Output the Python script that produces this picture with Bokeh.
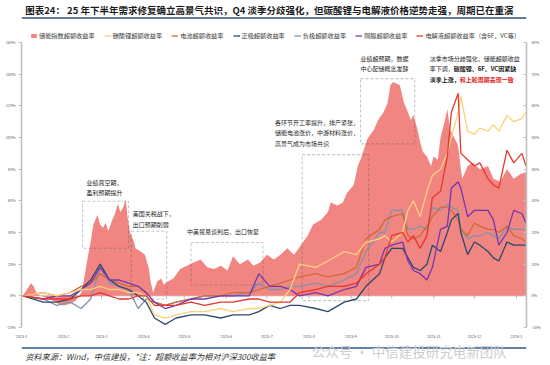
import pandas as pd
from bokeh.plotting import figure
from bokeh.layouts import column
from bokeh.models import (Range1d, LinearAxis, FixedTicker, PrintfTickFormatter, Legend, LegendItem,
                          Label, BoxAnnotation, Span, ColumnDataSource)
from bokeh.embed import file_html
from bokeh.resources import INLINE

FONT = "Noto Sans CJK SC"

# ---------------- data ----------------
series_names = ["储能指数超额收益率", "碳酸锂超额收益率", "电池超额收益率", "正极超额收益率",
                "负极超额收益率", "隔膜超额收益率", "电解液超额收益率（含6F、VC等）"]

# storage index excess return (left axis, %)
storage_dates = [
    "2025-01-02", "2025-01-05", "2025-01-08", "2025-01-10", "2025-01-12", "2025-01-15", "2025-01-19",
    "2025-01-22", "2025-01-26", "2025-01-30", "2025-02-02", "2025-02-06", "2025-02-10", "2025-02-14",
    "2025-02-16", "2025-02-19", "2025-02-21", "2025-02-23", "2025-02-26", "2025-02-28", "2025-03-02",
    "2025-03-04", "2025-03-06", "2025-03-09", "2025-03-11", "2025-03-13", "2025-03-15", "2025-03-17",
    "2025-03-19", "2025-03-20", "2025-03-22", "2025-03-25", "2025-03-26", "2025-03-30", "2025-04-02",
    "2025-04-05", "2025-04-06", "2025-04-08", "2025-04-11", "2025-04-14", "2025-04-16", "2025-04-19",
    "2025-04-23", "2025-04-28", "2025-05-03", "2025-05-08", "2025-05-13", "2025-05-18", "2025-05-23",
    "2025-05-28", "2025-06-02", "2025-06-06", "2025-06-11", "2025-06-17", "2025-06-21", "2025-06-26",
    "2025-07-01", "2025-07-06", "2025-07-11", "2025-07-16", "2025-07-21", "2025-07-26", "2025-07-31",
    "2025-08-04", "2025-08-10", "2025-08-15", "2025-08-17", "2025-08-22", "2025-08-26", "2025-08-29",
    "2025-09-03", "2025-09-06", "2025-09-08", "2025-09-13", "2025-09-18", "2025-09-21", "2025-09-25",
    "2025-09-28", "2025-09-30", "2025-10-02", "2025-10-07", "2025-10-10", "2025-10-13", "2025-10-15",
    "2025-10-17", "2025-10-20", "2025-10-22", "2025-10-24", "2025-10-27", "2025-10-30", "2025-11-01",
    "2025-11-04", "2025-11-06", "2025-11-09", "2025-11-11", "2025-11-13", "2025-11-16", "2025-11-19",
    "2025-11-21", "2025-11-22", "2025-11-26", "2025-11-30", "2025-12-05", "2025-12-11", "2025-12-15",
    "2025-12-20", "2025-12-25", "2025-12-30", "2026-01-04", "2026-01-08"]
storage_excess = [
    0, 4, 8, 6, 2, 0, -1,
    -2, -4, -6, -6, -5, -3, 2,
    10, 25, 34, 45, 51, 45, 43,
    46, 41, 48, 52, 58, 53, 56,
    61, 51, 40, 34, 30, 28, 26,
    17, 10, 2, 9, 11, 7, 9,
    11, 17, 19, 21, 23, 18, 17,
    19, 16, 25, 20, 23, 19, 21,
    26, 23, 26, 30, 26, 32, 38,
    45, 48, 53, 59, 57, 59, 65,
    70, 82, 86, 99, 105, 111, 116,
    122, 133, 135, 133, 122, 116, 111,
    114, 105, 97, 91, 88, 82, 88,
    86, 100, 110, 118, 105, 100, 95,
    80, 74, 82, 84, 80, 82, 74,
    72, 80, 74, 77, 78]

# sector excess returns (right axis, %)
line_dates = [
    "2025-01-02", "2025-01-17", "2025-01-27", "2025-02-06", "2025-02-14", "2025-02-21", "2025-02-28",
    "2025-03-07", "2025-03-14", "2025-03-21", "2025-03-28", "2025-04-03", "2025-04-09", "2025-04-17",
    "2025-04-25", "2025-05-06", "2025-05-16", "2025-05-28", "2025-06-06", "2025-06-18", "2025-06-25",
    "2025-07-03", "2025-07-11", "2025-07-18", "2025-07-25", "2025-08-06", "2025-08-15", "2025-08-27",
    "2025-09-05", "2025-09-12", "2025-09-22", "2025-09-26", "2025-10-01", "2025-10-09", "2025-10-13",
    "2025-10-17", "2025-10-22", "2025-10-27", "2025-10-31", "2025-11-06", "2025-11-11", "2025-11-14",
    "2025-11-19", "2025-11-21", "2025-11-26", "2025-12-01", "2025-12-05", "2025-12-11", "2025-12-15",
    "2025-12-19", "2025-12-25", "2025-12-30", "2026-01-05", "2026-01-08"]
lithium_excess = [0, 1, 0, 1, 2, 2, 3, 2, 2, 1,
                  1, 0, -6, -7, -6, -5, -5, -4, -5, -4,
                  -4, -3, -2, 2, 10, 9, 11, 14, 13, 17,
                  18, 19, 17, 20, 27, 30, 25, 33, 38, 40,
                  45, 50, 58, 63, 52, 51, 53, 52, 54, 52,
                  57, 55, 56, 58]
battery_excess = [0, 1, 0, 1, 3, 4, 7, 5, 4, 3,
                  3, 1, -2, -3, -2, -1, 0, 0, 1, 1,
                  2, 3, 4, 5, 6, 7, 6, 7, 9, 18,
                  21, 24, 25, 26, 19, 18, 19, 22, 25, 28,
                  28, 27, 24, 21, 19, 23, 22, 21, 21, 20,
                  22, 19, 18, 17]
cathode_excess = [0, -2, -2, -1, 2, 5, 10, 5, 3, 2,
                  0, -2, -7, -9, -7, -6, -6, -7, -6, -6,
                  -5, -3, -4, -3, -3, -4, -5, -2, -1, 3,
                  7, 12, 15, 15, 12, 9, 8, 10, 16, 14,
                  20, 24, 26, 20, 13, 17, 16, 14, 12, 11,
                  17, 16, 16, 16]
anode_excess = [0, -1, -3, -2, -4, -1, 9, 4, 3, 2,
                -4, -1, -2, -3, -2, -1, 0, 0, 0, 1,
                4, 2, 2, 3, 3, 4, 3, 5, 7, 14,
                20, 20, 27, 27, 21, 21, 22, 21, 28, 27,
                29, 28, 27, 21, 18, 19, 19, 20, 19, 18,
                22, 21, 21, 21]
separator_excess = [0, -1, 0, 0, 2, 4, 9, 5, 5, 4,
                    3, 1, -2, -4, -3, -1, -1, 0, 0, 0,
                    7, 3, 3, 2, 0, 1, 0, 2, 3, 9,
                    10, 15, 16, 17, 11, 8, 7, 5, 9, 21,
                    22, 34, 36, 34, 25, 27, 27, 27, 24, 16,
                    20, 27, 26, 23]
electrolyte_excess = [0, -1, -1, -1, 0, 0, 1, 0, -1, -1,
                      0, 0, -3, -3, -3, -2, -3, -2, -2, -1,
                      -1, -2, -2, -2, 1, 2, 3, 3, 4, 7,
                      10, 12, 19, 20, 17, 19, 15, 19, 31, 33,
                      44, 58, 64, 45, 43, 41, 42, 37, 35, 34,
                      46, 42, 45, 41]

month_starts = ["2025-01-01", "2025-02-01", "2025-03-01", "2025-04-01", "2025-05-01", "2025-06-01",
                "2025-07-01", "2025-08-01", "2025-09-01", "2025-10-01", "2025-11-01", "2025-12-01",
                "2026-01-01"]
month_labels = ["2025-1", "2025-2", "2025-3", "2025-4", "2025-5", "2025-6", "2025-7", "2025-8",
                "2025-9", "2025-10", "2025-11", "2025-12", "2026-1"]
left_ticks = [-20, 0, 20, 40, 60, 80, 100, 120, 140, 160]
right_ticks = [-10, 0, 10, 20, 30, 40, 50, 60, 70, 80]

# annotation boxes: (left date, right date, top %, bottom %) on left axis
boxes = [("2025-02-15", "2025-03-21", 59.7, 30.1),
         ("2025-03-23", "2025-04-18", 40.8, -2),
         ("2025-05-06", "2025-06-28", 33.7, 6.8),
         ("2025-07-27", "2025-09-14", 89.2, -3),
         ("2025-09-08", "2025-10-18", 137.2, 96)]

# annotation text lines: (date, left-axis %, [(text, bold, color), ...])
notes = [
    ("2025-02-18", 71.9, [("业绩真空期，", False, "#262626")]),
    ("2025-02-18", 65.2, [("盈利预期提升", False, "#262626")]),
    ("2025-03-24", 52.0, [("美国关税战下，", False, "#262626")]),
    ("2025-03-24", 45.0, [("出口预期削弱", False, "#262626")]),
    ("2025-05-03", 40.4, [("中美贸易谈判后，出口恢复", False, "#262626")]),
    ("2025-07-07", 109.8, [("各环节开工率提升，排产紧张，", False, "#262626")]),
    ("2025-07-07", 103.1, [("储能电池涨价，中游材料涨价，", False, "#262626")]),
    ("2025-07-07", 96.5, [("高景气成为市场共识", False, "#262626")]),
    ("2025-09-08", 149.8, [("业绩超预期，数据", False, "#262626")]),
    ("2025-09-08", 143.5, [("中心配储概念发酵", False, "#262626")]),
    ("2025-10-29", 149.8, [("淡季市场分歧强化，储能超额收益", False, "#262626")]),
    ("2025-10-29", 143.5, [("率下调，", False, "#262626"), ("碳酸锂、6F、VC因紧缺", True, "#1A1A1A")]),
    ("2025-10-29", 136.5, [("淡季上涨，", True, "#1A1A1A"), ("和上轮周期表现一致", True, "#E0241B")]),
]

title_text = "图表24：  25 年下半年需求修复确立高景气共识，Q4 淡季分歧强化，但碳酸锂与电解液价格逆势走强，周期已在重演"
source_text = "资料来源：Wind，中信建投，*注：超额收益率为相对沪深300收益率"
watermark_text = "公众号 · 中信建投研究电新团队"

# ---------------- helpers ----------------
ORIGIN = pd.Timestamp("2025-01-01")


def to_day(d):
    return (pd.Timestamp(d) - ORIGIN).days


month_days = [to_day(d) for d in month_starts]
W = 550


def blank_fig(h):
    f = figure(width=W, height=h, output_backend="svg", toolbar_location=None,
               x_range=Range1d(0, W), y_range=Range1d(h, 0),
               x_axis_location=None, y_axis_location=None,
               min_border=0, min_border_left=0, min_border_right=0,
               min_border_top=0, min_border_bottom=0)
    f.xgrid.visible = False
    f.ygrid.visible = False
    f.outline_line_alpha = 0
    f.background_fill_color = "white"
    f.border_fill_color = "white"
    return f


# ---------------- header ----------------
head = blank_fig(20)
head.add_layout(Label(x=4, y=9, text=title_text, text_font=FONT, text_font_size="9.5px",
                      text_font_style="bold", text_color="#1A1A1A", text_baseline="middle",
                      text_align="left"))
head.add_layout(Span(location=17.5, dimension="width", line_color="#2B4F7A", line_width=1.6))

# ---------------- main chart ----------------
# frame extends a little above 160% so that the legend sits inside it
p = figure(width=W, height=321, output_backend="svg", toolbar_location=None,
           x_range=Range1d(0, 372.4), y_range=Range1d(-20, 167.6),
           min_border_left=21, min_border_right=24, min_border_top=10, min_border_bottom=14)
p.extra_y_ranges = {"right": Range1d(-10, 83.8)}
p.xgrid.visible = False
p.ygrid.visible = False
p.outline_line_alpha = 0
p.background_fill_color = "white"
p.border_fill_color = "white"

AX = "#BFBFBF"
LBL = "#595959"

ya = p.yaxis[0]
ya.ticker = FixedTicker(ticks=left_ticks)
ya.bounds = (left_ticks[0], left_ticks[-1])
ya.formatter = PrintfTickFormatter(format="%d%%")
ya.axis_line_color = AX
ya.axis_line_width = 1.6
ya.major_tick_line_color = AX
ya.major_tick_out = 3
ya.major_tick_in = 0
ya.minor_tick_line_alpha = 0
ya.major_label_standoff = 3
ya.major_label_text_font = FONT
ya.major_label_text_font_size = "3.8px"
ya.major_label_text_color = LBL

ra = LinearAxis(y_range_name="right")
ra.ticker = FixedTicker(ticks=right_ticks)
ra.bounds = (right_ticks[0], right_ticks[-1])
ra.formatter = PrintfTickFormatter(format="%d%%")
ra.axis_line_color = AX
ra.axis_line_width = 1.6
ra.major_tick_line_color = AX
ra.major_tick_out = 0
ra.major_tick_in = 3
ra.minor_tick_line_alpha = 0
ra.major_label_standoff = 5
ra.major_label_text_font = FONT
ra.major_label_text_font_size = "3.8px"
ra.major_label_text_color = LBL
p.add_layout(ra, "right")

xa = p.xaxis[0]
xa.ticker = FixedTicker(ticks=month_days)
xa.major_label_overrides = {d: l for d, l in zip(month_days, month_labels)}
xa.axis_line_alpha = 0
xa.major_tick_line_alpha = 0
xa.minor_tick_line_alpha = 0
xa.major_label_standoff = 1
xa.major_label_text_font = FONT
xa.major_label_text_font_size = "3.8px"
xa.major_label_text_color = LBL

p.add_layout(Span(location=0, dimension="width", line_color=AX, line_width=1, level="underlay"))
p.segment(x0=month_days, y0=[0] * len(month_days), x1=month_days, y1=[-1.9] * len(month_days),
          line_color=AX, line_width=1)

area_src = ColumnDataSource(dict(x=[to_day(d) for d in storage_dates], y=storage_excess))
r_area = p.varea(x="x", y1=0, y2="y", source=area_src, fill_color="#F08582", fill_alpha=1)

ls = ColumnDataSource(dict(x=[to_day(d) for d in line_dates], lithium=lithium_excess,
                           battery=battery_excess, cathode=cathode_excess, anode=anode_excess,
                           separator=separator_excess, electrolyte=electrolyte_excess))
LW = 1.3
r_anode = p.line("x", "anode", source=ls, y_range_name="right", line_color="#8095AA", line_width=LW)
r_batt = p.line("x", "battery", source=ls, y_range_name="right", line_color="#CF6B35", line_width=LW)
r_cath = p.line("x", "cathode", source=ls, y_range_name="right", line_color="#2D4A6D", line_width=LW)
r_sep = p.line("x", "separator", source=ls, y_range_name="right", line_color="#7636AE", line_width=LW)
r_li = p.line("x", "lithium", source=ls, y_range_name="right", line_color="#FAD27C", line_width=LW)
r_ele = p.line("x", "electrolyte", source=ls, y_range_name="right", line_color="#E8372B", line_width=LW)

for l, r, t, b in boxes:
    p.add_layout(BoxAnnotation(left=to_day(l), right=to_day(r), top=t, bottom=b,
                               fill_alpha=0, line_color="#3D4B5C", line_width=1.1, line_dash="3 2"))

for d, yv, parts in notes:
    off = 0
    for txt, bold, col in parts:
        p.add_layout(Label(x=to_day(d), y=yv, text=txt, x_offset=off, text_font=FONT,
                           text_font_size="6px", text_font_style="bold" if bold else "normal",
                           text_color=col, text_align="left", text_baseline="middle"))
        off += 6 * len(txt) - (txt.count("6") + txt.count("F") + txt.count("V") + txt.count("C")) * 2.6

legend = Legend(items=[LegendItem(label=n, renderers=[r]) for n, r in
                       zip(series_names, [r_area, r_li, r_batt, r_cath, r_anode, r_sep, r_ele])],
                orientation="horizontal", location=(9, 287.5), glyph_width=7, glyph_height=5,
                label_height=7, label_width=10, label_standoff=2, spacing=9, padding=0, margin=0,
                label_text_font=FONT, label_text_font_size="6.2px", label_text_color="#404040",
                border_line_alpha=0, background_fill_alpha=0)
p.add_layout(legend, "center")

# ---------------- footer ----------------
foot = blank_fig(24)
foot.add_layout(Span(location=6.4, dimension="width", line_color="#2B5A8A", line_width=1.5))
foot.add_layout(Label(x=316, y=9.5, text=watermark_text, text_font=FONT, text_font_size="13.5px",
                      text_color="#CDCDCD", text_baseline="middle", text_align="left"))
foot.add_layout(Label(x=4, y=14, text=source_text, text_font=FONT, text_font_size="8.2px",
                      text_font_style="italic", text_color="#333333", text_baseline="middle",
                      text_align="left"))

layout = column(head, p, foot, spacing=0)
open("out.html", "w").write(file_html(layout, INLINE))
